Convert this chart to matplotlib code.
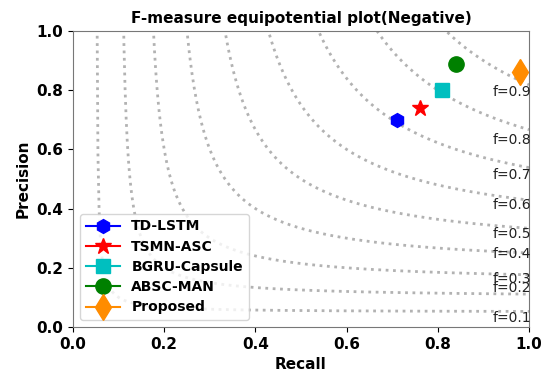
import numpy as np
import matplotlib
matplotlib.use("Agg")
import matplotlib.pyplot as plt

# data
methods = ["TD-LSTM", "TSMN-ASC", "BGRU-Capsule", "ABSC-MAN", "Proposed"]
recall = [0.71, 0.76, 0.81, 0.84, 0.98]
precision = [0.70, 0.74, 0.80, 0.89, 0.86]
f_levels = [0.1, 0.2, 0.3, 0.4, 0.5, 0.6, 0.7, 0.8, 0.9]

# styles
markers = ["h", "*", "s", "o", "d"]
colors = ["blue", "red", "c", "green", "darkorange"]
msizes = [10, 12, 10, 11, 13]
label_y = [0.017, 0.118, 0.149, 0.233, 0.30, 0.399, 0.50, 0.618, 0.78]

fig = plt.figure(figsize=(5.44, 3.78), dpi=100)
ax = fig.add_axes([73/544, 1-327/378, 456/544, 296/378])

for f, ly in zip(f_levels, label_y):
    x = np.linspace(0.01, 1, 400)
    y = f * x / (2 * x - f)
    m = (y >= 0)
    ax.plot(x[m], y[m], color="gray", linestyle=":", linewidth=2, alpha=0.6)
    ax.annotate("f={0:0.1f}".format(f), xy=(0.92, ly), fontsize=10, color="#222222")

for name, r, p, mk, c, ms in zip(methods, recall, precision, markers, colors, msizes):
    ax.plot([r], [p], marker=mk, color=c, markersize=ms, label=name)

ax.set_xlim(0, 1)
ax.set_ylim(0, 1)
ax.set_title("F-measure equipotential plot(Negative)", fontsize=11, fontweight="bold")
ax.set_xlabel("Recall", fontsize=11, fontweight="bold")
ax.set_ylabel("Precision", fontsize=11, fontweight="bold")
for lab in ax.get_xticklabels() + ax.get_yticklabels():
    lab.set_fontweight("bold")
    lab.set_fontsize(11)
for s in ax.spines.values():
    s.set_color("#777777")
ax.tick_params(colors="black", length=3.5)
leg = ax.legend(loc="lower left", prop={"weight": "bold", "size": 10}, handlelength=2.5,
                labelspacing=0.45)

fig.savefig("out.png", dpi=100)
